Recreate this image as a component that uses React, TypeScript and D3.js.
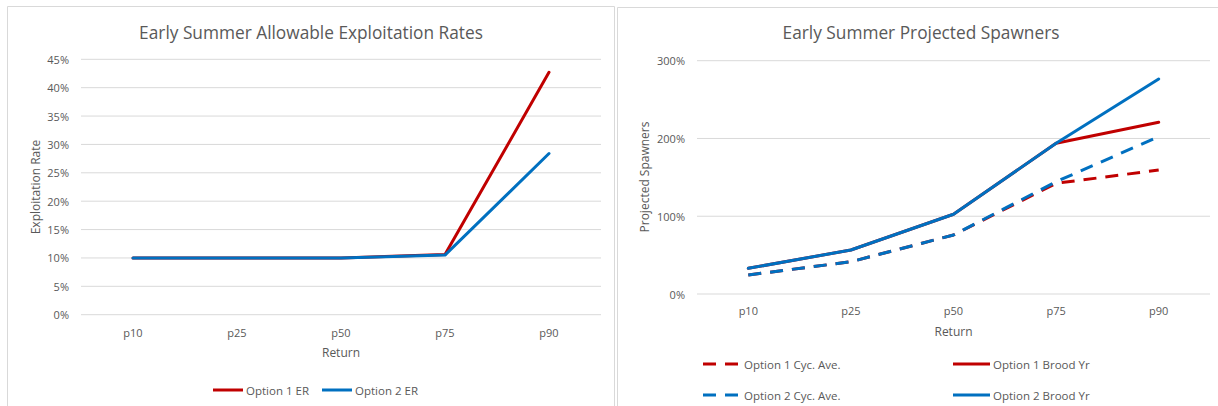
import React from "react";
import * as d3 from "d3";

const categories = ["p10", "p25", "p50", "p75", "p90"];

// Left chart: Allowable exploitation rates
const erTicks = [0, 0.05, 0.1, 0.15, 0.2, 0.25, 0.3, 0.35, 0.4, 0.45];
const option1ER = [0.1, 0.1, 0.1, 0.106, 0.427];
const option2ER = [0.1, 0.1, 0.1, 0.105, 0.284];

// Right chart: Projected spawners
const spTicks = [0, 1, 2, 3];
const option1CycAve = [0.244, 0.415, 0.759, 1.423, 1.594];
const option2CycAve = [0.244, 0.415, 0.759, 1.444, 2.023];
const option1BroodYr = [0.33, 0.566, 1.025, 1.938, 2.208];
const option2BroodYr = [0.33, 0.566, 1.025, 1.938, 2.765];

const RED = "#C00000";
const BLUE = "#0070C0";
const GRID = "#D9D9D9";
const TEXT = "#595959";
const FONT = "'Open Sans', 'Noto Sans', sans-serif";
const DASH = "13 9";

type Series = { name: string; values: number[]; color: string; dashed: boolean };

function LineChart(props: {
  title: string;
  titleX: number;
  xRange: [number, number];
  yRange: [number, number];
  yDomain: [number, number];
  ticks: number[];
  tickFmt: (v: number) => string;
  tickLabelX: number;
  xLabelY: number;
  returnY: number;
  yTitle: string;
  yTitleX: number;
  yTitleY: number;
  series: Series[];
}) {
  const x = d3.scalePoint<string>().domain(categories).range(props.xRange).padding(0.5);
  const y = d3.scaleLinear().domain(props.yDomain).range(props.yRange);
  const line = d3
    .line<number>()
    .x((_, i) => x(categories[i]) as number)
    .y((d) => y(d));
  const [x0, x1] = props.xRange;
  return (
    <g>
      <text x={props.titleX} y={32} textAnchor="middle" dominantBaseline="central" fontSize={17.3} fill={TEXT} fontFamily={FONT}>
        {props.title}
      </text>
      {props.ticks.map((t) => (
        <g key={t}>
          <line x1={x0} x2={x1} y1={y(t)} y2={y(t)} stroke={GRID} strokeWidth={1} />
          <text x={props.tickLabelX} y={y(t)} textAnchor="end" dominantBaseline="central" fontSize={11} fill={TEXT} fontFamily={FONT}>
            {props.tickFmt(t)}
          </text>
        </g>
      ))}
      {categories.map((c) => (
        <text key={c} x={x(c)} y={props.xLabelY} textAnchor="middle" dominantBaseline="central" fontSize={11} fill={TEXT} fontFamily={FONT}>
          {c}
        </text>
      ))}
      <text x={(x0 + x1) / 2} y={props.returnY} textAnchor="middle" dominantBaseline="central" fontSize={12} fill={TEXT} fontFamily={FONT}>
        Return
      </text>
      <text
        transform={`translate(${props.yTitleX},${props.yTitleY}) rotate(-90)`}
        textAnchor="middle"
        dominantBaseline="central"
        fontSize={12}
        fill={TEXT}
        fontFamily={FONT}
      >
        {props.yTitle}
      </text>
      {props.series.map((s) => (
        <path
          key={s.name}
          d={line(s.values) || ""}
          fill="none"
          stroke={s.color}
          strokeWidth={3}
          strokeDasharray={s.dashed ? DASH : undefined}
          strokeLinejoin="round"
          strokeLinecap={s.dashed ? "butt" : "round"}
        />
      ))}
    </g>
  );
}

function LegendItem(props: { x: number; y: number; len: number; s: Series }) {
  const { x, y, len, s } = props;
  return (
    <g>
      <line x1={x} x2={x + len} y1={y} y2={y} stroke={s.color} strokeWidth={3} strokeDasharray={s.dashed ? DASH : undefined} />
      <text x={x + len + 3} y={y} dominantBaseline="central" fontSize={11.5} fill={TEXT} fontFamily={FONT}>
        {s.name}
      </text>
    </g>
  );
}

export default function App() {
  const leftSeries: Series[] = [
    { name: "Option 1 ER", values: option1ER, color: RED, dashed: false },
    { name: "Option 2 ER", values: option2ER, color: BLUE, dashed: false },
  ];
  const s1c: Series = { name: "Option 1 Cyc. Ave.", values: option1CycAve, color: RED, dashed: true };
  const s2c: Series = { name: "Option 2 Cyc. Ave.", values: option2CycAve, color: BLUE, dashed: true };
  const s1b: Series = { name: "Option 1 Brood Yr", values: option1BroodYr, color: RED, dashed: false };
  const s2b: Series = { name: "Option 2 Brood Yr", values: option2BroodYr, color: BLUE, dashed: false };
  const rightSeries: Series[] = [s1c, s2c, s1b, s2b];

  return (
    <svg width={1218} height={406} style={{ position: "absolute", left: 0, top: 0, background: "#fff" }}>
      <rect x={0} y={0} width={1218} height={406} fill="#fff" />
      {/* panel borders */}
      <path d="M7.5,410 V6.5 H614.5 V410" fill="none" stroke={GRID} strokeWidth={1} />
      <path d="M617.5,410 V7.5 H1225" fill="none" stroke={GRID} strokeWidth={1} />

      <LineChart
        title="Early Summer  Allowable Exploitation Rates"
        titleX={311}
        xRange={[81, 601]}
        yRange={[314.7, 59.3]}
        yDomain={[0, 0.45]}
        ticks={erTicks}
        tickFmt={(v) => `${Math.round(v * 100)}%`}
        tickLabelX={69}
        xLabelY={332}
        returnY={352}
        yTitle="Exploitation Rate"
        yTitleX={35}
        yTitleY={187}
        series={leftSeries}
      />
      <LegendItem x={213} y={390} len={30} s={leftSeries[0]} />
      <LegendItem x={322} y={390} len={30} s={leftSeries[1]} />

      <LineChart
        title="Early Summer  Projected Spawners"
        titleX={921}
        xRange={[697, 1210]}
        yRange={[294, 60.7]}
        yDomain={[0, 3]}
        ticks={spTicks}
        tickFmt={(v) => `${Math.round(v * 100)}%`}
        tickLabelX={685}
        xLabelY={310.7}
        returnY={331}
        yTitle="Projected Spawners"
        yTitleX={644}
        yTitleY={177}
        series={rightSeries}
      />
      <LegendItem x={703} y={364} len={38} s={s1c} />
      <LegendItem x={703} y={395} len={38} s={s2c} />
      <LegendItem x={953} y={364} len={37} s={s1b} />
      <LegendItem x={953} y={395} len={37} s={s2b} />
    </svg>
  );
}
